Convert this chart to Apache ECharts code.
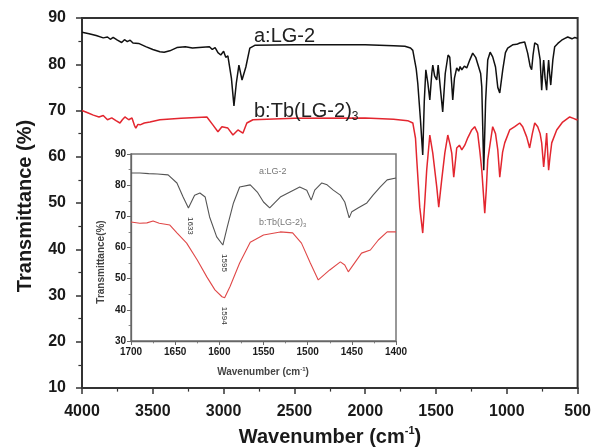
<!DOCTYPE html>
<html><head><meta charset="utf-8">
<script src="https://cdn.jsdelivr.net/npm/echarts@6/dist/echarts.min.js"></script>
<style>html,body{margin:0;padding:0;background:#fff}#c{width:594px;height:447px}</style>
</head><body><div id="c"></div>
<script>
// ---- Main spectrum, curve a: LG-2 ----
var mainWnA = [4000,3950,3900,3850,3820,3800,3780,3750,3720,3700,3680,3660,3640,3600,3550,3500,3450,3420,3380,3330,3270,3220,3150,3100,3080,3060,3040,3020,3000,2985,2970,2945,2927,2910,2892,2870,2843,2815,2780,2500,2000,1800,1720,1680,1664,1640,1629,1610,1594,1583,1572,1558,1544,1530,1523,1510,1495,1485,1470,1453,1435,1415,1403,1390,1382,1370,1354,1340,1330,1318,1300,1283,1262,1241,1220,1206,1185,1177,1163,1150,1135,1118,1100,1080,1064,1050,1029,1010,994,959,930,909,874,853,835,825,815,803,782,765,754,745,740,730,719,712,705,698,690,675,662,640,613,590,570,540,520,500];
var mainTA = [86.9,86.6,86.2,85.7,85.9,85.4,85.8,85.2,84.7,85.3,84.9,85.2,84.6,84.5,83.8,83.2,82.7,82.6,82.9,83.6,83.8,83.5,83.7,83.8,83.2,83.6,82.5,82.0,82.8,81.5,81.8,77,71.0,76,79.8,76.6,79.4,83.5,84.1,84.2,84.2,84.0,83.9,83.5,83.0,79,75.9,68,60.4,72,78.8,76,72.3,78,79.8,77.5,76.6,79.8,75,69.7,78,82,81.5,76,72.3,77,79.2,78.5,79.5,78.8,79.6,79.2,80.9,82.4,81.5,81.6,78,75.1,57.1,72,80.9,82.6,81.6,79.4,75,73.8,78.8,82.5,83.5,84.2,84.3,84.6,84.8,82.4,79.5,78.8,82,84.6,84.2,81,74.4,79,80.9,77,74.4,78,80.9,78,75.5,81,83.8,84.5,85.2,85.6,85.9,85.5,85.8,85.6];
// ---- Main spectrum, curve b: Tb(LG-2)3 ----
var mainWnB = [4000,3960,3920,3880,3850,3820,3790,3760,3732,3715,3697,3670,3647,3630,3620,3605,3590,3560,3520,3450,3300,3118,3076,3040,3012,2970,2934,2899,2864,2836,2793,2500,2000,1800,1700,1664,1645,1636,1615,1594,1580,1566,1544,1523,1495,1481,1460,1438,1417,1400,1389,1375,1360,1354,1335,1318,1297,1276,1248,1227,1206,1190,1177,1156,1145,1135,1100,1080,1064,1050,1030,1015,980,944,909,888,860,839,820,803,782,765,754,740,730,719,705,695,683,648,606,556,530,507,500];
var mainTB = [70.0,69.5,69.0,68.6,68.9,68.0,68.4,67.8,67.3,68.0,68.6,68.0,68.4,66.8,66.2,67.0,66.9,67.3,67.5,68.0,68.3,68.6,66.9,65.4,66.5,66.2,64.7,65.8,65.1,67.3,68.0,68.3,68.4,68.1,67.8,67.3,64,59.3,49.1,43.5,50,57.1,64.7,60.8,53.5,49.1,55,60.8,64.7,62.5,60.8,55.6,60,61.9,62.5,61.5,62.5,64.1,65.8,66.5,65.1,61,57.1,47.8,53,59.3,66.5,65,61.5,55.6,61,63,65.8,66.5,67.3,66.5,64.3,61.9,65,67.3,66.5,65,63,57.8,61,65.1,57.1,60,63,65.8,67.5,68.6,68.3,68.0,68.1];
// ---- Inset (1700-1400 cm-1) ----
var insetWnA = [1700,1690,1680,1670,1658,1648,1641,1635,1628,1622,1616,1611,1603,1596,1591,1584,1577,1565,1557,1550,1543,1531,1520,1509,1501,1496,1492,1484,1478,1471,1463,1458,1453,1450,1443,1433,1426,1418,1410,1400];
var insetTA = [83.9,83.9,83.7,83.6,83.3,80.7,76.2,72.7,76.8,77.5,76.2,69.8,63.4,60.8,66.6,74.3,79.4,80.1,77.8,74.6,72.7,76.2,77.8,79.4,78.4,75.2,78.4,80.7,80.1,78.4,76.8,74.6,69.5,71.5,72.7,74.3,76.8,79.4,81.7,82.3];
var insetWnB = [1700,1690,1682,1675,1668,1656,1648,1637,1625,1614,1605,1597,1594,1588,1577,1565,1550,1531,1517,1507,1497,1488,1475,1463,1458,1454,1446,1439,1429,1420,1410,1400];
var insetTB = [68.2,67.8,67.9,68.5,67.8,67.2,64.7,61.4,56,50.5,46.4,44.2,43.9,47.4,55,61.7,64,65,64.7,61.4,55,49.6,52.8,55.4,54.4,52.2,55.4,58.2,59.2,62.4,65,65];
var peakLabels = [{wn:1633, t:72.7, text:'1633'}, {wn:1595, t:60.8, text:'1595'}, {wn:1594, t:43.9, text:'1594'}];
var mainXTicks = {min:500, max:4000, interval:500};
var mainYTicks = {min:10, max:90, interval:10};
var insetXTicks = {min:1400, max:1700, interval:50};
var insetYTicks = {min:30, max:90, interval:10};

function pairs(xs, ys){ return xs.map(function(x,i){return [x, ys[i]];}); }
function plain(v){ return String(v); }

var FF = '"Liberation Sans", Arial, sans-serif';
var chart = echarts.init(document.getElementById('c'), null, {renderer:'canvas'});

var G0 = {left:82, top:18, width:496, height:370};
var G1 = {left:131, top:154, width:265, height:187};

function axisX(gi, t, fs, margin, color, lw, tl){
  return {type:'value', gridIndex:gi, inverse:true, min:t.min, max:t.max, interval:t.interval,
    axisLine:{show:true, onZero:false, lineStyle:{color:color, width:lw}},
    axisTick:{show:true, length:tl, lineStyle:{color:color, width:lw*0.75}},
    minorTick:{show:true, splitNumber:2, length:tl*0.6, lineStyle:{color:color, width:lw*0.6}},
    splitLine:{show:false},
    axisLabel:{fontFamily:FF, fontWeight:'bold', fontSize:fs, color:'#1a1a1a', margin:margin, formatter:plain}};
}
function axisY(gi, t, fs, margin, color, lw, tl){
  return {type:'value', gridIndex:gi, min:t.min, max:t.max, interval:t.interval,
    axisLine:{show:true, onZero:false, lineStyle:{color:color, width:lw}},
    axisTick:{show:true, length:tl, lineStyle:{color:color, width:lw*0.75}},
    minorTick:{show:true, splitNumber:2, length:tl*0.6, lineStyle:{color:color, width:lw*0.6}},
    splitLine:{show:false},
    axisLabel:{fontFamily:FF, fontWeight:'bold', fontSize:fs, color:'#1a1a1a', margin:margin, formatter:plain}};
}

var option = {
  animation:false,
  backgroundColor:'#fff',
  grid:[
    Object.assign({show:true, borderColor:'#333', borderWidth:2, backgroundColor:'transparent', containLabel:false}, G0),
    Object.assign({show:true, borderColor:'#777', borderWidth:1.5, backgroundColor:'#fff', containLabel:false, z:3}, G1)
  ],
  xAxis:[ axisX(0, mainXTicks, 16, 16, '#333', 2, 6), Object.assign(axisX(1, insetXTicks, 10, 6, '#666', 1.3, 4), {z:4}) ],
  yAxis:[ axisY(0, mainYTicks, 16, 16, '#333', 2, 6), Object.assign(axisY(1, insetYTicks, 10, 5, '#666', 1.3, 4), {z:4}) ],
  series:[
    {type:'line', xAxisIndex:0, yAxisIndex:0, data:pairs(mainWnA, mainTA), showSymbol:false, lineStyle:{color:'#111', width:1.5}, z:2},
    {type:'line', xAxisIndex:0, yAxisIndex:0, data:pairs(mainWnB, mainTB), showSymbol:false, lineStyle:{color:'#e3262f', width:1.5}, z:2},
    {type:'line', xAxisIndex:1, yAxisIndex:1, data:pairs(insetWnA, insetTA), showSymbol:false, lineStyle:{color:'#555', width:1.1}, z:5},
    {type:'line', xAxisIndex:1, yAxisIndex:1, data:pairs(insetWnB, insetTB), showSymbol:false, lineStyle:{color:'#e04848', width:1.1}, z:5}
  ],
  graphic:[]
};
chart.setOption(option);

var gfx = [];
gfx.push({type:'text', left:254, top:26, z:10, style:{text:'a:LG-2', font:'20px '+FF, fill:'#222'}});
gfx.push({type:'text', left:254, top:101, z:10, style:{text:'{n|b:Tb(LG-2)}{s|3}', rich:{n:{fontSize:20, fontFamily:FF, fill:'#222'}, s:{fontSize:12, fontFamily:FF, fill:'#222', padding:[12,0,0,0]}}}});
gfx.push({type:'text', x:25, y:206, rotation:Math.PI/2, z:10, style:{text:'Transmittance (%)', font:'bold 20px '+FF, fill:'#1a1a1a', align:'center', verticalAlign:'middle'}});
gfx.push({type:'text', x:330, y:437, z:10, style:{text:'{n|Wavenumber (cm}{s|-1}{n|)}', align:'center', verticalAlign:'middle', rich:{n:{fontSize:20, fontWeight:'bold', fontFamily:FF, fill:'#1a1a1a'}, s:{fontSize:11, fontWeight:'bold', fontFamily:FF, fill:'#1a1a1a', padding:[0,0,12,0]}}}});
gfx.push({type:'text', x:101, y:262, rotation:Math.PI/2, z:10, style:{text:'Transmittance(%)', font:'bold 10px '+FF, fill:'#444', align:'center', verticalAlign:'middle'}});
gfx.push({type:'text', x:263, y:372, z:10, style:{text:'{n|Wavenumber (cm}{s|-1}{n|)}', align:'center', verticalAlign:'middle', rich:{n:{fontSize:10, fontWeight:'bold', fontFamily:FF, fill:'#444'}, s:{fontSize:6, fontWeight:'bold', fontFamily:FF, fill:'#444', padding:[0,0,6,0]}}}});
gfx.push({type:'text', left:259, top:167, z:10, style:{text:'a:LG-2', font:'9px '+FF, fill:'#777'}});
gfx.push({type:'text', left:259, top:218, z:10, style:{text:'{n|b:Tb(LG-2)}{s|3}', rich:{n:{fontSize:9, fontFamily:FF, fill:'#777'}, s:{fontSize:6, fontFamily:FF, fill:'#777', padding:[5,0,0,0]}}}});
var offs = [18, 18, 18];
peakLabels.forEach(function(p, i){
  var pt = chart.convertToPixel({xAxisIndex:1, yAxisIndex:1}, [p.wn, p.t]);
  gfx.push({type:'text', x:pt[0], y:pt[1]+offs[i], rotation:-Math.PI/2, z:10, style:{text:p.text, font:'8px '+FF, fill:'#333', align:'center', verticalAlign:'middle'}});
});
chart.setOption({graphic:gfx});
</script></body></html>
